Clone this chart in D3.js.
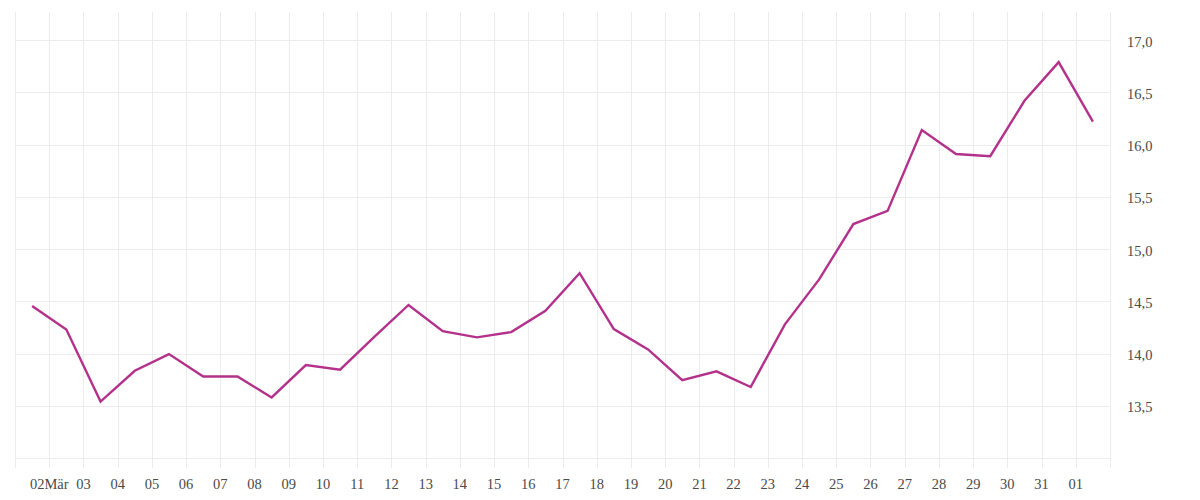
<!DOCTYPE html>
<html>
<head>
<meta charset="utf-8">
<script src="https://cdn.jsdelivr.net/npm/d3@7"></script>
<style>
html,body{margin:0;padding:0;background:#fff;}
svg{display:block;}
text{font-family:"Liberation Serif","DejaVu Serif",serif;font-size:14.5px;fill:#4a4a4a;}
</style>
</head>
<body>
<svg id="chart" width="1200" height="500"></svg>
<script>
// Data: daily values, 1 March to 1 April (plotted at midday)
const dates = ["2021-03-01","2021-03-02","2021-03-03","2021-03-04","2021-03-05","2021-03-06","2021-03-07","2021-03-08",
  "2021-03-09","2021-03-10","2021-03-11","2021-03-12","2021-03-13","2021-03-14","2021-03-15","2021-03-16",
  "2021-03-17","2021-03-18","2021-03-19","2021-03-20","2021-03-21","2021-03-22","2021-03-23","2021-03-24",
  "2021-03-25","2021-03-26","2021-03-27","2021-03-28","2021-03-29","2021-03-30","2021-03-31","2021-04-01"];
const values = [14.455,14.23,13.54,13.835,13.995,13.78,13.78,13.58,
  13.89,13.845,14.16,14.465,14.215,14.155,14.205,14.41,
  14.77,14.235,14.04,13.745,13.83,13.68,14.28,14.71,
  15.24,15.366,16.14,15.91,15.89,16.42,16.79,16.22];
const yTicks = [13.0,13.5,14.0,14.5,15.0,15.5,16.0,16.5,17.0];
const yLabelTicks = [13.5,14.0,14.5,15.0,15.5,16.0,16.5,17.0];
const monthNames = ["Jan","Feb","Mär","Apr","Mai","Jun","Jul","Aug","Sep","Okt","Nov","Dez"];

(function(){
const parse = d3.utcParse("%Y-%m-%d");
const data = dates.map((d,i)=>({date:d3.utcHour.offset(parse(d),12), value:values[i]}));

const svg = d3.select("#chart");
const mLeft = 15, mRight = 1110, mTop = 12, mBottom = 458;

const x = d3.scaleUtc()
  .domain([parse("2021-03-01"), parse("2021-04-02")])
  .range([mLeft, mRight]);
const y = d3.scaleLinear()
  .domain([13.0, 17.27])
  .range([mBottom, mTop]);

const dayTicks = d3.utcDay.range(parse("2021-03-01"), d3.utcDay.offset(parse("2021-04-02"),1));
const labelTicks = dayTicks.filter(d => d > parse("2021-03-01") && d < parse("2021-04-02"));

const grid = svg.append("g");
grid.selectAll("line.h").data(yTicks).join("line")
  .attr("x1", mLeft).attr("x2", mRight)
  .attr("y1", d=>Math.round(y(d))+0.5).attr("y2", d=>Math.round(y(d))+0.5)
  .attr("stroke", "#ececec").attr("stroke-width", 1);
grid.selectAll("line.v").data(dayTicks).join("line")
  .attr("x1", d=>Math.round(x(d))+0.5).attr("x2", d=>Math.round(x(d))+0.5)
  .attr("y1", mTop).attr("y2", mBottom+10)
  .attr("stroke", "#ececec").attr("stroke-width", 1);

const fmtDay = d3.utcFormat("%d");
svg.append("g").selectAll("text").data(labelTicks).join("text")
  .attr("x", d=>x(d)).attr("y", 488.5)
  .attr("text-anchor", "middle")
  .text(d => d.getUTCDate()===2 && d.getUTCMonth()===2 ? fmtDay(d)+monthNames[d.getUTCMonth()] : fmtDay(d));

const fmtY = v => d3.format(".1f")(v).replace(".", ",");
svg.append("g").selectAll("text").data(yLabelTicks).join("text")
  .attr("x", 1127).attr("y", d=>y(d)+6.5)
  .attr("text-anchor", "start")
  .text(fmtY);

const line = d3.line().x(d=>x(d.date)).y(d=>y(d.value));
svg.append("path").datum(data)
  .attr("d", line)
  .attr("fill", "none")
  .attr("stroke", "#b3318a")
  .attr("stroke-width", 2.4)
  .attr("stroke-linejoin", "miter");
})();
</script>
</body>
</html>
